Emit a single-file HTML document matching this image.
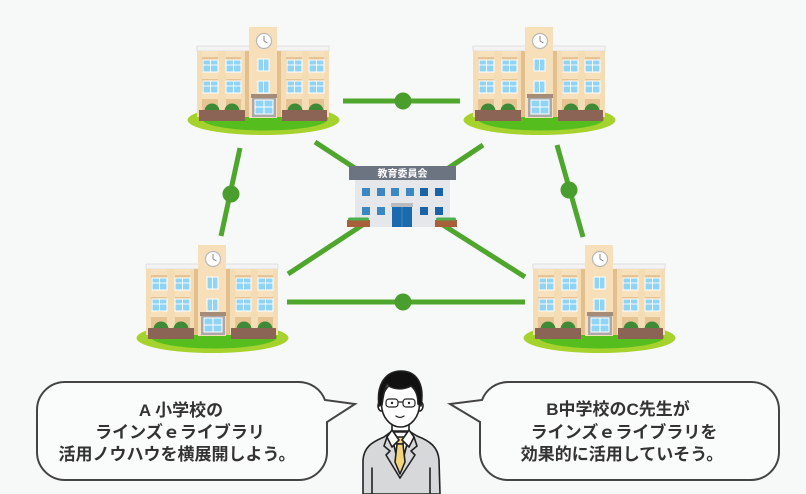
<!DOCTYPE html>
<html><head><meta charset="utf-8"><style>
html,body{margin:0;padding:0;background:#f7f8f8;}
svg{display:block;}
text{font-family:"Liberation Sans","Noto Sans CJK JP",sans-serif;}
</style></head><body>
<svg width="806" height="494" viewBox="0 0 806 494" xmlns="http://www.w3.org/2000/svg">
<defs>
<g id="win">
  <rect x="0" y="0" width="15" height="12" fill="#8fd3f5" stroke="#ffffff" stroke-width="1"/>
  <line x1="7.5" y1="0" x2="7.5" y2="12" stroke="#fff" stroke-width="0.9"/>
  <line x1="0" y1="5" x2="15" y2="5" stroke="#fff" stroke-width="0.9"/>
</g>
<g id="school">
  <ellipse cx="263.5" cy="120" rx="76" ry="15" fill="#a6d22e"/>
  <ellipse cx="265" cy="119" rx="63" ry="11.5" fill="#56bd1f"/>
  <rect x="197" y="46" width="132" height="5" fill="#f3f3f3" stroke="#d2d2d2" stroke-width="0.6"/>
  <rect x="197" y="51" width="132" height="66" fill="#e6c392"/>
  <rect x="197" y="51" width="132" height="6" fill="#f7e1bd"/>
  <rect x="197" y="72" width="132" height="7" fill="#f7e1bd"/>
  <rect x="197" y="92" width="132" height="7" fill="#f7e1bd"/>
  <rect x="197" y="51" width="5" height="66" fill="#f4dcb5"/>
  <rect x="218" y="51" width="8" height="66" fill="#f4dcb5"/>
  <rect x="241" y="51" width="8" height="66" fill="#f4dcb5"/>
  <rect x="277" y="51" width="9" height="66" fill="#f4dcb5"/>
  <rect x="302" y="51" width="7" height="66" fill="#f4dcb5"/>
  <rect x="324" y="51" width="5" height="66" fill="#f4dcb5"/>
  <use href="#win" x="203" y="60"/>
  <use href="#win" x="226" y="60"/>
  <use href="#win" x="287" y="60"/>
  <use href="#win" x="309" y="60"/>
  <use href="#win" x="203" y="81"/>
  <use href="#win" x="226" y="81"/>
  <use href="#win" x="287" y="81"/>
  <use href="#win" x="309" y="81"/>
  <rect x="249" y="27" width="28" height="91" fill="#f7dfb9"/>
  <rect x="245" y="51" width="4" height="66" fill="#e3bf8d"/>
  <rect x="277" y="51" width="4" height="66" fill="#e3bf8d"/>
  <circle cx="264" cy="41" r="7.5" fill="#fff" stroke="#b8b8b8" stroke-width="1.2"/>
  <line x1="264" y1="41" x2="264" y2="36" stroke="#777" stroke-width="0.9"/>
  <line x1="264" y1="41" x2="267.5" y2="43" stroke="#777" stroke-width="0.9"/>
  <rect x="258" y="59" width="11" height="12" fill="#8fd3f5" stroke="#fff" stroke-width="1"/>
  <line x1="263.5" y1="59" x2="263.5" y2="71" stroke="#fff" stroke-width="0.9"/>
  <rect x="258" y="81" width="11" height="12" fill="#8fd3f5" stroke="#fff" stroke-width="1"/>
  <line x1="263.5" y1="81" x2="263.5" y2="93" stroke="#fff" stroke-width="0.9"/>
  <rect x="251" y="94" width="26" height="4" fill="#a58c78"/>
  <rect x="252" y="98" width="24" height="19" fill="#a9a9ab"/>
  <rect x="255" y="100" width="18" height="14" fill="#8fd3f5" stroke="#fff" stroke-width="1"/>
  <line x1="264" y1="100" x2="264" y2="114" stroke="#fff" stroke-width="1"/>
  <line x1="255" y1="107" x2="273" y2="107" stroke="#fff" stroke-width="1"/>
  <circle cx="212" cy="111" r="7.5" fill="#3f8a37"/>
  <circle cx="232" cy="111" r="7.5" fill="#3f8a37"/>
  <circle cx="295" cy="111" r="7.5" fill="#3f8a37"/>
  <circle cx="316" cy="111" r="7.5" fill="#3f8a37"/>
  <rect x="199" y="110" width="46" height="11" fill="#8b6456"/>
  <rect x="282" y="110" width="45" height="11" fill="#8b6456"/>
</g>
</defs>

<!-- connectors -->
<g stroke="#4ea62c" stroke-width="5" fill="none">
  <line x1="343" y1="101" x2="460" y2="101"/>
  <line x1="287" y1="302" x2="525" y2="302"/>
  <line x1="240" y1="148" x2="221" y2="236"/>
  <line x1="557" y1="145" x2="583" y2="237"/>
  <line x1="315" y1="142" x2="402" y2="199"/>
  <line x1="483" y1="145" x2="402" y2="199"/>
  <line x1="288" y1="274" x2="402" y2="199"/>
  <line x1="525" y1="277" x2="402" y2="199"/>
</g>
<g fill="#4a9e2d">
  <circle cx="403" cy="101" r="8.5"/>
  <circle cx="403" cy="302" r="8.5"/>
  <circle cx="231" cy="194" r="8.5"/>
  <circle cx="569" cy="190" r="8.5"/>
</g>

<!-- schools -->
<use href="#school"/>
<use href="#school" transform="translate(276,0)"/>
<use href="#school" transform="translate(-51,218)"/>
<use href="#school" transform="translate(336,218)"/>

<!-- board of education -->
<rect x="355" y="180" width="95" height="47" fill="#e6e7eb"/>
<rect x="349" y="166" width="107" height="14" fill="#6b7480"/>
<text x="402.5" y="177" font-size="10" font-weight="700" fill="#fff" text-anchor="middle">教育委員会</text>
<g fill="#3a87c1">
  <rect x="362" y="188" width="8" height="8"/><rect x="377" y="188" width="8" height="8"/>
  <rect x="391" y="188" width="8" height="8"/><rect x="406" y="188" width="8" height="8"/>
  <rect x="362" y="207" width="8" height="8"/><rect x="377" y="207" width="8" height="8"/>
</g>
<g fill="#1a63a6">
  <rect x="420" y="188" width="8" height="8"/><rect x="435" y="188" width="8" height="8"/>
  <rect x="420" y="207" width="8" height="8"/><rect x="435" y="207" width="8" height="8"/>
</g>
<rect x="391" y="203" width="22" height="4" fill="#b8bbc0"/>
<rect x="392" y="207" width="20" height="20" fill="#1b6aad"/>
<line x1="402" y1="207" x2="402" y2="227" stroke="#4f8fc7" stroke-width="0.8"/>
<rect x="347" y="220" width="23" height="7" fill="#a8603a"/>
<rect x="435" y="220" width="22" height="7" fill="#a8603a"/>
<g fill="#4caf50">
  <rect x="348" y="217.5" width="21" height="3" rx="1.5"/>
  <rect x="436" y="217.5" width="20" height="3" rx="1.5"/>
</g>

<!-- bubbles -->
<path d="M65,382 H299 A28,28 0 0 1 325,400 L355,404 L327,422 V452 A28,28 0 0 1 299,480 H65 A28,28 0 0 1 37,452 V410 A28,28 0 0 1 65,382 Z" fill="#fafbfb" stroke="#444" stroke-width="2" stroke-linejoin="miter"/>
<path d="M508,382 H751 A28,28 0 0 1 779,410 V452 A28,28 0 0 1 751,480 H508 A28,28 0 0 1 480,452 V422 L450,404 L482,400 A28,28 0 0 1 508,382 Z" fill="#fafbfb" stroke="#444" stroke-width="2" stroke-linejoin="miter"/>
<g font-size="17" font-weight="700" fill="#333" text-anchor="middle">
  <text x="181" y="416">A 小学校の</text>
  <text x="180" y="438">ラインズｅライブラリ</text>
  <text x="177" y="460">活用ノウハウを横展開しよう。</text>
  <text x="618" y="415">B中学校のC先生が</text>
  <text x="624" y="438">ラインズｅライブラリを</text>
  <text x="622" y="460">効果的に活用していそう。</text>
</g>

<!-- person -->
<g stroke="#222" stroke-width="1.6" stroke-linejoin="round" stroke-linecap="round">
  <rect x="392" y="420" width="17" height="16" fill="#fff"/>
  <path d="M363,494 L363,460 C364,447 372,442 384,437 L392,431 L409,431 L417,436 C430,441 438,447 439,460 L440,494 Z" fill="#d7d8d9"/>
  <path d="M391,432 L400,472 L410,432 Z" fill="#fff"/>
  <path d="M396,437 L404,437 L403,444 L397,444 Z" fill="#f3d67c"/>
  <path d="M397,444 L403,444 L405,462 L400,474 L395,462 Z" fill="#f3d67c"/>
  <path d="M392,430 L399,440 L392,447 L387,437 Z" fill="#fff"/>
  <path d="M409,430 L402,440 L409,447 L414,437 Z" fill="#fff"/>
  <path d="M387,437 L384,446 L390,451 L386,455 L400,478" fill="none"/>
  <path d="M414,437 L417,446 L411,451 L415,455 L400,478" fill="none"/>
  <line x1="372" y1="468" x2="372" y2="494"/>
  <line x1="430" y1="468" x2="430" y2="494"/>
  <ellipse cx="381.5" cy="406" rx="3.5" ry="5" fill="#fff"/>
  <ellipse cx="419.5" cy="406" rx="3.5" ry="5" fill="#fff"/>
  <ellipse cx="400.5" cy="404" rx="19" ry="23" fill="#fff"/>
  <path d="M379,406 C376,384 386,371 401,371 C416,371 425,383 421,406 L418,404 C418,395 415,389 411,386 C403,390 392,390 387,384 C384,390 383,397 382,405 Z" fill="#111"/>
  <rect x="386" y="399" width="12" height="8" rx="3" fill="none" stroke-width="1.2"/>
  <rect x="403" y="399" width="12" height="8" rx="3" fill="none" stroke-width="1.2"/>
  <line x1="398" y1="402" x2="403" y2="402" stroke-width="1.2"/>
  <path d="M396,416 Q400,419 404,416" fill="none" stroke-width="1.3"/>
</g>
<circle cx="392" cy="403" r="1.2" fill="#222"/>
<circle cx="409" cy="403" r="1.2" fill="#222"/>
</svg>
</body></html>
